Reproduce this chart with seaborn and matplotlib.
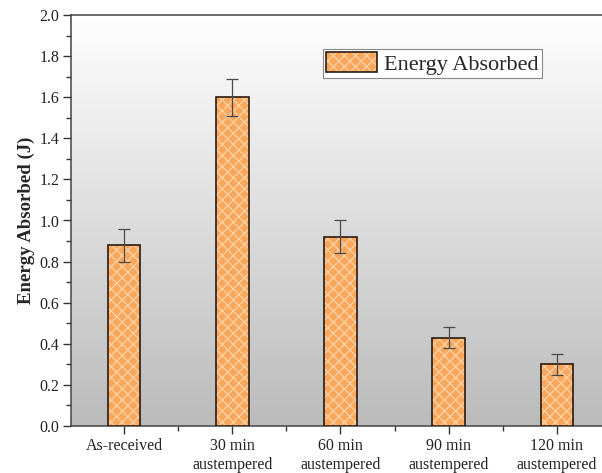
import numpy as np
import pandas as pd
import matplotlib
matplotlib.use("Agg")
import matplotlib.pyplot as plt
import seaborn as sns
from matplotlib.ticker import MultipleLocator, FixedLocator

categories = ["As-received", "30 min\naustempered", "60 min\naustempered",
              "90 min\naustempered", "120 min\naustempered"]
energy = [0.88, 1.60, 0.92, 0.43, 0.30]
errors = [0.08, 0.09, 0.08, 0.05, 0.05]

sns.set_style("ticks")
plt.rcParams["font.family"] = ["Liberation Serif", "DejaVu Serif"]
plt.rcParams["hatch.linewidth"] = 0.9

fig = plt.figure(figsize=(6.02, 4.73), dpi=100)
ax = fig.add_axes([71/602, 47/473, 539/602, 411/473])

df = pd.DataFrame({"cat": categories, "val": energy})
# filled bars with light hatch (hatch colour follows edgecolor)
sns.barplot(data=df, x="cat", y="val", width=0.3, color="#f9a75c",
            edgecolor="#fdd3a6", linewidth=0, saturation=1, ax=ax,
            zorder=3)
for p in ax.patches:
    p.set_hatch("xxx")
# dark outlines
sns.barplot(data=df, x="cat", y="val", width=0.3, fill=False,
            edgecolor="#2a1a10", linewidth=1.2, ax=ax, zorder=3.5)

ax.errorbar(np.arange(len(energy)), energy, yerr=errors, fmt="none",
            ecolor="#4a4a4a", elinewidth=0.9, capsize=4.5, capthick=0.9, zorder=4)

# gradient background
grad = np.linspace(1, 0, 256).reshape(-1, 1)
ax.imshow(grad, extent=[-0.49, 4.49, 0, 2.0], aspect="auto", origin="upper",
          cmap=matplotlib.colors.LinearSegmentedColormap.from_list(
              "g", ["#bbbbbb", "#ffffff"]),
          zorder=0)
ax.set_xlim(-0.49, 4.49)
ax.set_ylim(0, 2.0)

ax.yaxis.set_major_locator(MultipleLocator(0.2))
ax.yaxis.set_minor_locator(MultipleLocator(0.1))
ax.xaxis.set_minor_locator(FixedLocator([0.5, 1.5, 2.5, 3.5]))
ax.set_yticks(np.arange(0, 2.01, 0.2))
ax.set_yticklabels([f"{v:.1f}" for v in np.arange(0, 2.01, 0.2)])
ax.tick_params(axis="both", which="major", direction="out", length=6, width=1,
               labelsize=11.5, colors="#333333", labelcolor="#222222", pad=2.5)
ax.tick_params(axis="both", which="minor", direction="out", length=3.5, width=1,
               colors="#333333")
for lbl in ax.get_xticklabels():
    lbl.set_linespacing(1.25)
ax.set_xlabel("")
ax.set_ylabel("Energy Absorbed (J)", fontsize=13.5, fontweight="bold", labelpad=3)

for s in ax.spines.values():
    s.set_color("#444444")
    s.set_linewidth(1.1)

handle = matplotlib.patches.Patch(facecolor="#f9a75c", edgecolor="#fdd3a6",
                                  hatch="xxx", linewidth=0)
outline = matplotlib.patches.Patch(fill=False, edgecolor="#2a1a10", linewidth=1.2)
leg = ax.legend([(handle, outline)], ["Energy Absorbed"],
                loc="upper left", bbox_to_anchor=(0.4675, 0.917),
                borderaxespad=0, fontsize=16, frameon=True, fancybox=False,
                handlelength=2.3, handleheight=1.0, handletextpad=0.3,
                borderpad=0.15)
leg.get_frame().set_edgecolor("#888888")
leg.get_frame().set_facecolor("white")
leg.get_frame().set_alpha(1)
leg.get_frame().set_linewidth(0.8)

fig.savefig("out.png", dpi=100)
